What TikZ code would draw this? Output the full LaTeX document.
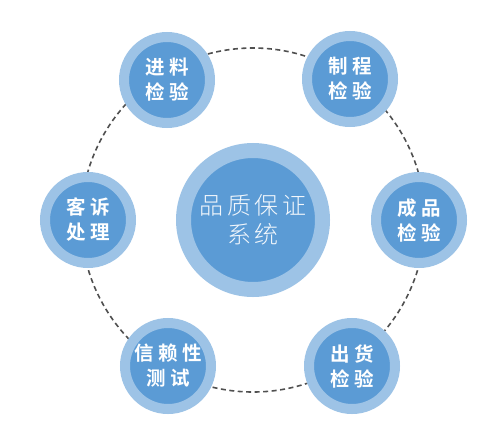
\documentclass[tikz,border=0pt]{standalone}
\usepackage{fontspec}
\newfontfamily\cjkbold[LetterSpace=22]{Noto Sans CJK SC Bold}
\newfontfamily\cjklight[LetterSpace=16]{Noto Sans CJK SC Light}
\definecolor{ringblue}{HTML}{9DC3E6}
\definecolor{coreblue}{HTML}{5B9BD5}
\definecolor{dashgray}{HTML}{505050}

\begin{document}
\begin{tikzpicture}[x=1pt,y=-1pt,
 ring/.style={circle,draw=ringblue,line width=10pt,fill=coreblue,minimum size=86pt,inner sep=0pt,
  align=center,text=white,font=\cjkbold\fontsize{19.5}{25}\selectfont},
 hub/.style={circle,draw=ringblue,line width=15pt,fill=coreblue,minimum size=139pt,inner sep=0pt,
  align=center,text=white!92!coreblue,font=\cjklight\fontsize{24}{29}\selectfont}]
\useasboundingbox (0,0) rectangle (502,444);
\draw[dashgray,line width=1.6pt,dash pattern=on 5pt off 3.5pt] (253,220) circle[radius=172];
\node[hub] (qa) at (253,220) {品质保证\\系统};
\node[ring] (in) at (167,80) {进料\\检验};
\node[ring] (proc) at (350,79) {制程\\检验};
\node[ring] (fin) at (419,220) {成品\\检验};
\node[ring] (ship) at (352,366) {出货\\检验};
\node[ring] (rel) at (168,366) {信赖性\\测试};
\node[ring] (cust) at (88,220) {客诉\\处理};
\end{tikzpicture}
\end{document}
